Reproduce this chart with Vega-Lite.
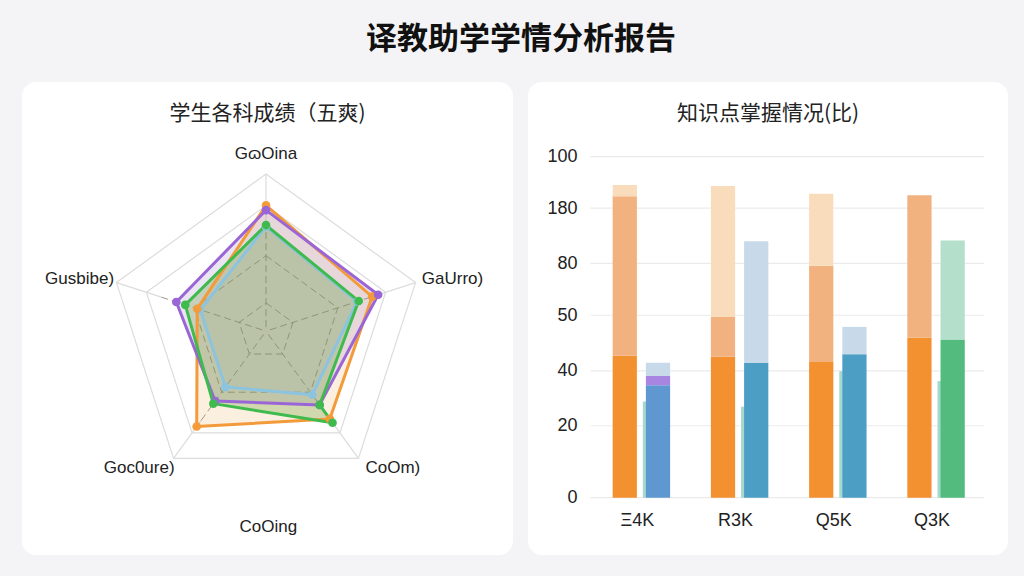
{
  "$schema": "https://vega.github.io/schema/vega-lite/v6.json",
  "background": "#f4f4f6",
  "padding": {"left": 22, "right": 16, "top": 24, "bottom": 21},
  "spacing": 15,
  "title": {"text": "译教助学学情分析报告", "font": "Noto Sans CJK SC", "fontSize": 31, "fontWeight": "bold", "color": "#111111", "anchor": "middle", "offset": 26, "dx": 6},
  "resolve": {"scale": {"color": "independent", "fill": "independent", "fillOpacity": "independent"}},
  "config": {"view": {"stroke": null}, "font": "Liberation Sans"},
  "datasets": {
    "scores": [
      {"student": "学生A", "subject": "GɷOina", "k": 0, "seq": 0, "score": 66.5},
      {"student": "学生A", "subject": "GaUrro)", "k": 1, "seq": 1, "score": 61},
      {"student": "学生A", "subject": "CoOm)", "k": 2, "seq": 2, "score": 50},
      {"student": "学生A", "subject": "Goc0ure)", "k": 3, "seq": 3, "score": 44},
      {"student": "学生A", "subject": "Gusbibe)", "k": 4, "seq": 4, "score": 44},
      {"student": "学生B", "subject": "GɷOina", "k": 0, "seq": 0, "score": 80},
      {"student": "学生B", "subject": "GaUrro)", "k": 1, "seq": 1, "score": 71},
      {"student": "学生B", "subject": "CoOm)", "k": 2, "seq": 2, "score": 69},
      {"student": "学生B", "subject": "Goc0ure)", "k": 3, "seq": 3, "score": 75},
      {"student": "学生B", "subject": "Gusbibe)", "k": 4, "seq": 4, "score": 46},
      {"student": "学生C", "subject": "GɷOina", "k": 0, "seq": 0, "score": 77},
      {"student": "学生C", "subject": "GaUrro)", "k": 1, "seq": 1, "score": 75},
      {"student": "学生C", "subject": "CoOm)", "k": 2, "seq": 2, "score": 58},
      {"student": "学生C", "subject": "Goc0ure)", "k": 3, "seq": 3, "score": 55},
      {"student": "学生C", "subject": "Gusbibe)", "k": 4, "seq": 4, "score": 60},
      {"student": "学生D", "subject": "GɷOina", "k": 0, "seq": 0, "score": 67.5},
      {"student": "学生D", "subject": "GaUrro)", "k": 1, "seq": 1, "score": 62},
      {"student": "学生D", "subject": "CoOm)", "k": 2, "seq": 2, "score": 58},
      {"student": "学生D", "subject": "CoOm)", "k": 2, "seq": 3, "score": 72},
      {"student": "学生D", "subject": "Goc0ure)", "k": 3, "seq": 4, "score": 57},
      {"student": "学生D", "subject": "Gusbibe)", "k": 4, "seq": 5, "score": 54}
    ],
    "subjects": [
      {"subject": "GɷOina", "k": 0},
      {"subject": "GaUrro)", "k": 1},
      {"subject": "CoOm)", "k": 2},
      {"subject": "Goc0ure)", "k": 3},
      {"subject": "Gusbibe)", "k": 4}
    ],
    "rings": [
      {"level": 18, "k": 0}, {"level": 18, "k": 1}, {"level": 18, "k": 2}, {"level": 18, "k": 3}, {"level": 18, "k": 4},
      {"level": 48, "k": 0}, {"level": 48, "k": 1}, {"level": 48, "k": 2}, {"level": 48, "k": 3}, {"level": 48, "k": 4},
      {"level": 80, "k": 0}, {"level": 80, "k": 1}, {"level": 80, "k": 2}, {"level": 80, "k": 3}, {"level": 80, "k": 4},
      {"level": 100, "k": 0}, {"level": 100, "k": 1}, {"level": 100, "k": 2}, {"level": 100, "k": 3}, {"level": 100, "k": 4}
    ],
    "bars": [
      {"topic": "Ξ4K", "slot": "o", "part": "o1", "lo": 0, "hi": 41.6},
      {"topic": "Ξ4K", "slot": "o", "part": "o2", "lo": 41.6, "hi": 88.4},
      {"topic": "Ξ4K", "slot": "o", "part": "o3", "lo": 88.4, "hi": 91.7},
      {"topic": "Ξ4K", "slot": "b", "part": "b1", "lo": 0, "hi": 33.0},
      {"topic": "Ξ4K", "slot": "b", "part": "p", "lo": 33.0, "hi": 35.7},
      {"topic": "Ξ4K", "slot": "b", "part": "b2", "lo": 35.7, "hi": 39.6},
      {"topic": "R3K", "slot": "o", "part": "o1", "lo": 0, "hi": 41.3},
      {"topic": "R3K", "slot": "o", "part": "o2", "lo": 41.3, "hi": 53.0},
      {"topic": "R3K", "slot": "o", "part": "o3", "lo": 53.0, "hi": 91.4},
      {"topic": "R3K", "slot": "b", "part": "bt", "lo": 0, "hi": 39.5},
      {"topic": "R3K", "slot": "b", "part": "b2", "lo": 39.5, "hi": 75.2},
      {"topic": "Q5K", "slot": "o", "part": "o1", "lo": 0, "hi": 39.8},
      {"topic": "Q5K", "slot": "o", "part": "o2", "lo": 39.8, "hi": 68.0},
      {"topic": "Q5K", "slot": "o", "part": "o3", "lo": 68.0, "hi": 89.1},
      {"topic": "Q5K", "slot": "b", "part": "bt", "lo": 0, "hi": 42.1},
      {"topic": "Q5K", "slot": "b", "part": "b2", "lo": 42.1, "hi": 50.1},
      {"topic": "Q3K", "slot": "o", "part": "o1", "lo": 0, "hi": 47.0},
      {"topic": "Q3K", "slot": "o", "part": "o2", "lo": 47.0, "hi": 88.7},
      {"topic": "Q3K", "slot": "b", "part": "g1", "lo": 0, "hi": 46.4},
      {"topic": "Q3K", "slot": "b", "part": "g2", "lo": 46.4, "hi": 75.4}
    ],
    "thin": [
      {"topic": "Ξ4K", "lo": 0, "hi": 28.2},
      {"topic": "R3K", "lo": 0, "hi": 26.7},
      {"topic": "Q5K", "lo": 0, "hi": 37.1},
      {"topic": "Q3K", "lo": 0, "hi": 34.2}
    ],
    "ticks": [{"v": 0}, {"v": 21.1}, {"v": 37.2}, {"v": 53.5}, {"v": 68.7}, {"v": 84.9}, {"v": 100}]
  },
  "hconcat": [
    {
      "width": 491,
      "height": 473,
      "view": {"fill": "white", "cornerRadius": 14, "stroke": null},
      "title": {"text": "学生各科成绩（五爽)", "font": "Noto Sans CJK SC", "fontSize": 21, "fontWeight": "normal", "color": "#222222", "anchor": "middle", "frame": "group", "offset": -42},
      "layer": [
        {
          "data": {"name": "rings"},
          "transform": [
            {"filter": "datum.level >= 80"},
            {"calculate": "datum.k*2*PI/5", "as": "theta"},
            {"calculate": "datum.level/100*sin(datum.theta)", "as": "px"},
            {"calculate": "datum.level/100*cos(datum.theta)", "as": "py"}
          ],
          "mark": {"type": "line", "interpolate": "linear-closed", "color": "#dcdcdc", "strokeWidth": 1.2},
          "encoding": {
            "x": {"field": "px", "type": "quantitative", "scale": {"domain": [-1.552, 1.571], "nice": false, "zero": false}, "axis": null},
            "y": {"field": "py", "type": "quantitative", "scale": {"domain": [-1.424, 1.585], "nice": false, "zero": false}, "axis": null},
            "detail": {"field": "level", "type": "nominal"},
            "order": {"field": "k", "type": "quantitative"}
          }
        },
        {
          "data": {"name": "rings"},
          "transform": [
            {"filter": "datum.level < 80"},
            {"calculate": "datum.k*2*PI/5", "as": "theta"},
            {"calculate": "datum.level/100*sin(datum.theta)", "as": "px"},
            {"calculate": "datum.level/100*cos(datum.theta)", "as": "py"}
          ],
          "mark": {"type": "line", "interpolate": "linear-closed", "color": "#9a9a8e", "strokeWidth": 1, "strokeDash": [7, 4]},
          "encoding": {
            "x": {"field": "px", "type": "quantitative", "axis": null},
            "y": {"field": "py", "type": "quantitative", "axis": null},
            "detail": {"field": "level", "type": "nominal"},
            "order": {"field": "k", "type": "quantitative"}
          }
        },
        {
          "data": {"name": "subjects"},
          "transform": [
            {"calculate": "datum.k*2*PI/5", "as": "theta"},
            {"calculate": "sin(datum.theta)", "as": "px"},
            {"calculate": "cos(datum.theta)", "as": "py"},
            {"calculate": "0.7*sin(datum.theta)", "as": "qx"},
            {"calculate": "0.7*cos(datum.theta)", "as": "qy"}
          ],
          "mark": {"type": "rule", "color": "#dcdcdc", "strokeWidth": 1.2},
          "encoding": {
            "x": {"field": "px", "type": "quantitative", "axis": null},
            "y": {"field": "py", "type": "quantitative", "axis": null},
            "x2": {"field": "qx"},
            "y2": {"field": "qy"}
          }
        },
        {
          "data": {"name": "subjects"},
          "transform": [
            {"calculate": "datum.k*2*PI/5", "as": "theta"},
            {"calculate": "0.7*sin(datum.theta)", "as": "px"},
            {"calculate": "0.7*cos(datum.theta)", "as": "py"}
          ],
          "mark": {"type": "rule", "color": "#9a9a8e", "strokeWidth": 1, "strokeDash": [7, 4]},
          "encoding": {
            "x": {"field": "px", "type": "quantitative", "axis": null},
            "y": {"field": "py", "type": "quantitative", "axis": null},
            "x2": {"datum": 0},
            "y2": {"datum": 0}
          }
        },
        {
          "data": {"name": "scores"},
          "transform": [
            {"calculate": "datum.k*2*PI/5", "as": "theta"},
            {"calculate": "datum.score/100*sin(datum.theta)", "as": "px"},
            {"calculate": "datum.score/100*cos(datum.theta)", "as": "py"}
          ],
          "mark": {"type": "line", "interpolate": "linear-closed", "strokeWidth": 0, "strokeOpacity": 0},
          "encoding": {
            "x": {"field": "px", "type": "quantitative", "axis": null},
            "y": {"field": "py", "type": "quantitative", "axis": null},
            "order": {"field": "seq", "type": "quantitative"},
            "fill": {"field": "student", "type": "nominal", "legend": null, "scale": {"domain": ["学生A", "学生B", "学生C", "学生D"], "range": ["#7fb7d6", "#e8a048", "#9a80c8", "#5a9620"]}},
            "fillOpacity": {"field": "student", "type": "nominal", "legend": null, "scale": {"domain": ["学生A", "学生B", "学生C", "学生D"], "range": [0.12, 0.26, 0.07, 0.42]}}
          }
        },
        {
          "data": {"name": "scores"},
          "transform": [
            {"calculate": "datum.k*2*PI/5", "as": "theta"},
            {"calculate": "datum.score/100*sin(datum.theta)", "as": "px"},
            {"calculate": "datum.score/100*cos(datum.theta)", "as": "py"}
          ],
          "mark": {"type": "line", "interpolate": "linear-closed", "strokeWidth": 3, "strokeJoin": "round"},
          "encoding": {
            "x": {"field": "px", "type": "quantitative", "axis": null},
            "y": {"field": "py", "type": "quantitative", "axis": null},
            "order": {"field": "seq", "type": "quantitative"},
            "color": {"field": "student", "type": "nominal", "legend": null, "scale": {"domain": ["学生A", "学生B", "学生C", "学生D"], "range": ["#8cc4e0", "#f39a3a", "#9a66d6", "#3fbb4e"]}}
          }
        },
        {
          "data": {"name": "scores"},
          "transform": [
            {"calculate": "datum.k*2*PI/5", "as": "theta"},
            {"calculate": "datum.score/100*sin(datum.theta)", "as": "px"},
            {"calculate": "datum.score/100*cos(datum.theta)", "as": "py"}
          ],
          "mark": {"type": "point", "filled": true, "size": 75, "opacity": 1},
          "encoding": {
            "x": {"field": "px", "type": "quantitative", "axis": null},
            "y": {"field": "py", "type": "quantitative", "axis": null},
            "color": {"field": "student", "type": "nominal", "legend": null}
          }
        },
        {
          "data": {"name": "subjects"},
          "transform": [
            {"calculate": "datum.k*2*PI/5 + (datum.k == 1 ? 0.04 : datum.k == 2 ? -0.12 : datum.k == 3 ? 0.12 : datum.k == 4 ? -0.04 : 0)", "as": "lt"},
            {"calculate": "datum.k == 0 ? 1.127 : (datum.k == 1 || datum.k == 4 ? 1.232 : 1.186)", "as": "lr"},
            {"calculate": "datum.lr*sin(datum.lt)", "as": "px"},
            {"calculate": "datum.lr*cos(datum.lt)", "as": "py"}
          ],
          "mark": {"type": "text", "fontSize": 17, "color": "#222222", "align": "center", "baseline": "middle", "font": "Liberation Sans"},
          "encoding": {
            "x": {"field": "px", "type": "quantitative", "axis": null},
            "y": {"field": "py", "type": "quantitative", "axis": null},
            "text": {"field": "subject"}
          }
        },
        {
          "data": {"values": [{"label": "CoOing"}]},
          "mark": {"type": "text", "fontSize": 17, "color": "#222222", "align": "center", "baseline": "middle", "font": "Liberation Sans"},
          "encoding": {
            "x": {"datum": 0.015, "axis": null},
            "y": {"datum": -1.245, "axis": null},
            "text": {"field": "label"}
          }
        }
      ]
    },
    {
      "width": 480,
      "height": 473,
      "view": {"fill": "white", "cornerRadius": 14, "stroke": null},
      "title": {"text": "知识点掌握情况(比)", "font": "Noto Sans CJK SC", "fontSize": 21, "fontWeight": "normal", "color": "#222222", "anchor": "middle", "frame": "group", "offset": -42},
      "layer": [
        {
          "data": {"name": "ticks"},
          "mark": {"type": "rule", "color": "#ebebeb", "strokeWidth": 1.2, "xOffset": -51, "x2Offset": 48},
          "encoding": {
            "x": {"datum": "Ξ4K", "type": "nominal",
              "axis": {"title": null, "orient": "bottom", "offset": -46, "domain": false, "ticks": false, "labelPadding": 2, "labelFontSize": 18, "labelColor": "#222222", "labelAngle": 0, "labelFont": "Liberation Sans", "labelOffset": -4}},
            "x2": {"datum": "Q3K"},
            "y": {"field": "v", "type": "quantitative",
              "axis": {"title": null, "orient": "left", "offset": -53, "domain": false, "ticks": false, "grid": false, "labelPadding": 4, "labelFontSize": 18, "labelColor": "#222222", "labelFont": "Liberation Sans",
                "values": [0, 21.1, 37.2, 53.5, 68.7, 84.9, 100],
                "labelExpr": "datum.value == 0 ? '0' : datum.value == 21.1 ? '20' : datum.value == 37.2 ? '40' : datum.value == 53.5 ? '50' : datum.value == 68.7 ? '80' : datum.value == 84.9 ? '180' : '100'"}}
          }
        },
        {
          "data": {"name": "thin"},
          "mark": {"type": "bar", "width": 3.5, "xOffset": 3.2, "color": "#a6d9cd"},
          "encoding": {
            "x": {"field": "topic", "type": "nominal",
              "axis": {"title": null, "orient": "bottom", "offset": -46, "domain": false, "ticks": false, "labelPadding": 2, "labelFontSize": 18, "labelColor": "#222222", "labelAngle": 0, "labelFont": "Liberation Sans", "labelOffset": -4}},
            "y": {"field": "lo", "type": "quantitative",
              "axis": {"title": null, "orient": "left", "offset": -53, "domain": false, "ticks": false, "grid": false, "labelPadding": 4, "labelFontSize": 18, "labelColor": "#222222", "labelFont": "Liberation Sans",
                "values": [0, 21.1, 37.2, 53.5, 68.7, 84.9, 100],
                "labelExpr": "datum.value == 0 ? '0' : datum.value == 21.1 ? '20' : datum.value == 37.2 ? '40' : datum.value == 53.5 ? '50' : datum.value == 68.7 ? '80' : datum.value == 84.9 ? '180' : '100'"}},
            "y2": {"field": "hi"}
          }
        },
        {
          "data": {"name": "bars"},
          "mark": {"type": "bar"},
          "encoding": {
            "x": {"field": "topic", "type": "nominal", "sort": null,
              "scale": {"domain": ["Ξ4K", "R3K", "Q5K", "Q3K"], "paddingInner": 0.415, "paddingOuter": 0.651, "align": 0.662},
              "axis": {"title": null, "orient": "bottom", "offset": -46, "domain": false, "ticks": false, "labelPadding": 2, "labelFontSize": 18, "labelColor": "#222222", "labelAngle": 0, "labelFont": "Liberation Sans", "labelOffset": -4}},
            "xOffset": {"field": "slot", "type": "nominal", "scale": {"domain": ["o", "b"], "paddingInner": 0.27, "paddingOuter": 0}},
            "y": {"field": "lo", "type": "quantitative",
              "scale": {"domain": [-16.8, 121.9], "nice": false, "zero": false},
              "axis": {"title": null, "orient": "left", "offset": -53, "domain": false, "ticks": false, "grid": false, "labelPadding": 4, "labelFontSize": 18, "labelColor": "#222222", "labelFont": "Liberation Sans",
                "values": [0, 21.1, 37.2, 53.5, 68.7, 84.9, 100],
                "labelExpr": "datum.value == 0 ? '0' : datum.value == 21.1 ? '20' : datum.value == 37.2 ? '40' : datum.value == 53.5 ? '50' : datum.value == 68.7 ? '80' : datum.value == 84.9 ? '180' : '100'"}},
            "y2": {"field": "hi"},
            "color": {"field": "part", "type": "nominal", "legend": null,
              "scale": {"domain": ["o1", "o2", "o3", "b1", "bt", "b2", "p", "g1", "g2"],
                "range": ["#f39130", "#f2b27f", "#f9dcbc", "#5f97d0", "#4c9ec5", "#c8daea", "#a985e2", "#53bb7e", "#b4e0cb"]}}
          }
        }
      ]
    }
  ]
}
